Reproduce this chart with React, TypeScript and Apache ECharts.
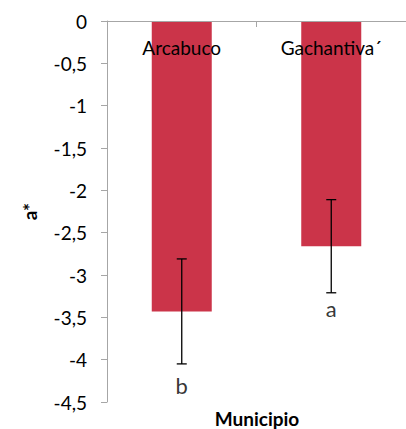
import React, { useEffect, useRef } from "react";
import * as echarts from "echarts";

const categories = ["Arcabuco", "Gachantiva´"];
const means = [-3.43, -2.66];
const errorLow = [-4.05, -3.21];
const errorHigh = [-2.81, -2.11];
const letters = ["b", "a"];
const letterValues = [-4.31, -3.4];
const yTicks = { min: -4.5, max: 0, interval: 0.5 };

const FONT = "Lato, 'Open Sans', sans-serif";

export default function App() {
  const ref = useRef<HTMLDivElement>(null);
  useEffect(() => {
    if (!ref.current) return;
    const chart = echarts.init(ref.current, null, { renderer: "svg" });
    chart.setOption({
      animation: false,
      grid: { left: 107, top: 21, width: 302, bottom: 27 },
      xAxis: {
        type: "category",
        data: categories,
        position: "top",
        z: 10,
        axisLine: { show: true, lineStyle: { color: "#a6a6a6", width: 1 } },
        axisTick: { show: true, inside: true, length: 6, lineStyle: { color: "#a6a6a6" } },
        axisLabel: {
          inside: true,
          margin: 17,
          fontSize: 19,
          color: "#000",
          fontFamily: FONT,
          verticalAlign: "top",
        },
      },
      yAxis: {
        type: "value",
        min: yTicks.min,
        max: yTicks.max,
        interval: yTicks.interval,
        name: "a*",
        nameLocation: "middle",
        nameRotate: 90,
        nameGap: 68,
        nameTextStyle: { fontSize: 19, fontWeight: "bold", color: "#000", fontFamily: FONT },
        axisLine: { show: true, lineStyle: { color: "#a6a6a6", width: 1 } },
        axisTick: { show: true, length: 6, lineStyle: { color: "#a6a6a6" } },
        splitLine: { show: false },
        axisLabel: {
          fontSize: 19,
          color: "#000",
          fontFamily: FONT,
          margin: 20,
          formatter: (v: number) => String(v).replace(".", ","),
        },
      },
      series: [
        {
          type: "bar",
          data: means,
          barWidth: 60,
          itemStyle: { color: "#CB3449" },
        },
        {
          type: "custom",
          data: categories.map((_, i) => [i, errorLow[i], errorHigh[i]]),
          renderItem: (params: any, api: any) => {
            const x = api.value(0);
            const lo = api.coord([x, api.value(1)]);
            const hi = api.coord([x, api.value(2)]);
            const cap = 5;
            const style = { stroke: "#000", lineWidth: 1.3 };
            return {
              type: "group",
              children: [
                { type: "line", shape: { x1: lo[0], y1: lo[1], x2: hi[0], y2: hi[1] }, style },
                { type: "line", shape: { x1: lo[0] - cap, y1: lo[1], x2: lo[0] + cap, y2: lo[1] }, style },
                { type: "line", shape: { x1: hi[0] - cap, y1: hi[1], x2: hi[0] + cap, y2: hi[1] }, style },
              ],
            };
          },
          z: 5,
        },
        {
          type: "scatter",
          data: categories.map((_, i) => [i, letterValues[i]]),
          symbolSize: 0,
          label: {
            show: true,
            position: "inside",
            formatter: (p: any) => letters[p.dataIndex],
            fontSize: 22,
            color: "#000",
            fontFamily: FONT,
          },
        },
      ],
      graphic: [
        {
          type: "text",
          x: 257,
          y: 418,
          style: {
            text: "Municipio",
            fontSize: 19,
            fontWeight: "bold",
            fill: "#000",
            fontFamily: FONT,
            textAlign: "center",
            textVerticalAlign: "middle",
          },
        },
      ],
    });
    return () => chart.dispose();
  }, []);
  return (
    <div
      ref={ref}
      style={{ position: "fixed", left: 0, top: 0, width: 406, height: 429, background: "#fff" }}
    />
  );
}
